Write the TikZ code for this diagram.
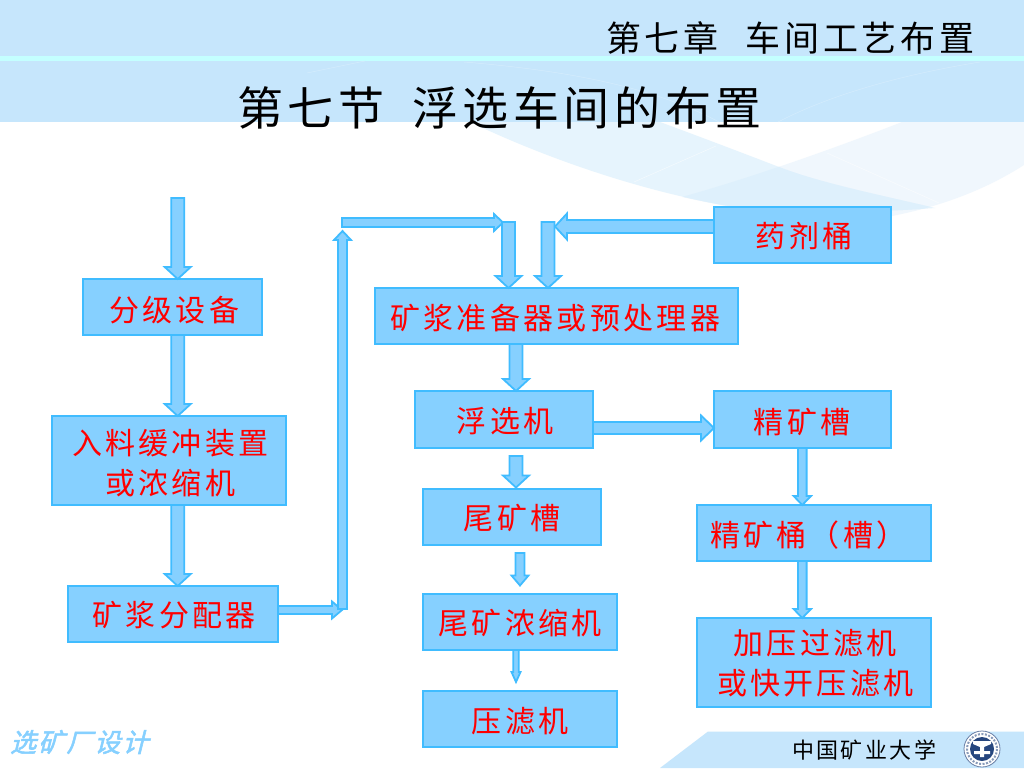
\documentclass[tikz,border=0pt]{standalone}
\usepackage{fontspec}
\usetikzlibrary{calc}
\newfontfamily\boxfont[LetterSpace=11]{Noto Sans CJK SC}
\newfontfamily\titlefont[LetterSpace=10]{Noto Sans CJK SC}
\newfontfamily\headfont[LetterSpace=11]{Noto Sans CJK SC}
\newfontfamily\footfont[LetterSpace=11]{Noto Sans CJK SC}
\newfontfamily\markfont[LetterSpace=8,FakeSlant=0.25,FakeBold=2]{Noto Sans CJK SC}
\definecolor{band}{HTML}{C6E6FC}
\definecolor{stripe}{HTML}{C4FFFF}
\definecolor{boxfill}{HTML}{86D0FF}
\definecolor{boxedge}{HTML}{40BCFF}
\definecolor{paleA}{HTML}{E6F4FD}
\definecolor{paleB}{HTML}{F0F7FD}
\definecolor{paleAB}{HTML}{DEF0FC}
\definecolor{navy}{HTML}{27477F}
\tikzset{
  procbox/.style={draw=boxedge,fill=boxfill,line width=2pt,inner sep=0pt,outer sep=0pt,
    font=\boxfont\fontsize{30}{36}\selectfont,text=red},
  blockarrow/.style={draw=boxedge,fill=boxfill,line width=1.8pt,line join=miter,miter limit=3},
  faint/.style={draw=white,line width=.5pt,opacity=.6},
  plain/.style={inner sep=0pt,outer sep=0pt,text=black}
}
% text set at an offset from the centre of its box
\newcommand\lab[3]{\raisebox{\dimexpr-#2pt-11pt\relax}[0pt][0pt]{\makebox[0pt]{\hspace*{\dimexpr2\dimexpr#1pt\relax+0.5pt\relax}#3}}}
% block arrow: shaft half width, head half width, head length, from, to
\newcommand\barrow[5]{%
  \coordinate (A) at (#4);
  \coordinate (B) at (#5);
  \coordinate (H) at ($(B)!#3pt!(A)$);
  \draw[blockarrow]
    ($(A)!#1pt!90:(B)$) -- ($(H)!#1pt!90:(B)$) -- ($(H)!#2pt!90:(B)$) -- (B)
    -- ($(H)!#2pt!-90:(B)$) -- ($(H)!#1pt!-90:(B)$) -- ($(A)!#1pt!-90:(B)$) -- cycle;
}
\begin{document}
\begin{tikzpicture}[x=1pt,y=-1pt]
\useasboundingbox (0,0) rectangle (1024,768);
\fill[white] (0,0) rectangle (1024,768);
% background waves
\fill[paleB] (902,122) .. controls (830,150) and (750,178) .. (682,197)
  .. controls (750,212) and (820,222) .. (887,217)
  .. controls (940,207) and (985,190) .. (1024,165) -- (1024,122) -- cycle;
\fill[paleA] (470,122) .. controls (550,160) and (640,190) .. (723,205)
  .. controls (800,215) and (880,212) .. (935,208)
  .. controls (880,195) and (820,183) .. (779,167)
  .. controls (735,150) and (695,135) .. (660,122) -- cycle;
\begin{scope}
  \clip (902,122) .. controls (830,150) and (750,178) .. (682,197)
  .. controls (750,212) and (820,222) .. (887,217)
  .. controls (940,207) and (985,190) .. (1024,165) -- (1024,122) -- cycle;
  \fill[paleAB] (470,122) .. controls (550,160) and (640,190) .. (723,205)
  .. controls (800,215) and (880,212) .. (935,208)
  .. controls (880,195) and (820,183) .. (779,167)
  .. controls (735,150) and (695,135) .. (660,122) -- cycle;
\end{scope}
\draw[faint] (634,182) -- (716,146);
\draw[faint] (827,153) -- (939,203);
% header and footer bands
\fill[band] (0,0) rectangle (1024,122);
\fill[stripe] (0,56) rectangle (1024,61);
\fill[band] (660,768) -- (708,731.5) -- (1024,731.5) -- (1024,768) -- cycle;
\draw[faint,draw=paleA,opacity=.45] (307,73) -- (365,61);
\draw[faint,draw=paleA,opacity=.45] (464,62) .. controls (560,70) and (650,85) .. (719,122);
\draw[faint,draw=paleA,opacity=.45] (980,62) .. controls (900,75) and (830,95) .. (778,122);
% titles
\node[plain,anchor=west,font=\headfont\fontsize{35}{42}\selectfont] (chapter) at (606,38) {第七章\ \hspace{15pt}车间工艺布置};
\node[plain,anchor=west,font=\titlefont\fontsize{46}{54}\selectfont] (section) at (237,108) {第七节\ \hspace{13pt}浮选车间的布置};
\node[plain,anchor=west,font=\footfont\fontsize{22}{26}\selectfont] (school) at (792,750) {中国矿业大学};
\node[anchor=west,inner sep=0pt,text=boxfill,font=\markfont\fontsize{26}{30}\selectfont] (mark) at (10,742) {选矿厂设计};
% crest
\fill[white] (982,749) circle (18);
\draw[navy!70,line width=.8pt] (982,749) circle (18);
\draw[navy!55,line width=2pt,dash pattern=on 2pt off 1.5pt] (982,749) circle (15);
\fill[navy] (982,749) circle (12);
\fill[white] (973,741) -- (991,741) -- (991,744) -- (984,747) -- (984,751) -- (990,751) -- (990,754) -- (984,754) -- (984,757) -- (980,757) -- (980,754) -- (974,754) -- (974,751) -- (980,751) -- (980,747) -- (973,744) -- cycle;
% boxes
\node[procbox,minimum width=179pt,minimum height=56pt] (fenji) at (172.5,307) {\lab{1.5}{3}{分级设备}};
\node[procbox,minimum width=234pt,minimum height=89pt] (ruliao) at (169,460.5) {\lab{1}{-17.5}{入料缓冲装置}\lab{1}{22.5}{或浓缩机}};
\node[procbox,minimum width=210pt,minimum height=56pt] (fenpei) at (173,614) {\lab{1}{1}{矿浆分配器}};
\node[procbox,minimum width=363pt,minimum height=56pt] (zhunbei) at (556.5,316) {\lab{-1.5}{2}{矿浆准备器或预处理器}};
\node[procbox,minimum width=178pt,minimum height=57pt] (fuxuan) at (504,419.5) {\lab{1}{1.5}{浮选机}};
\node[procbox,minimum width=178pt,minimum height=56pt] (weicao) at (512,517) {\lab{0}{1}{尾矿槽}};
\node[procbox,minimum width=194pt,minimum height=56pt] (weinong) at (520,622) {\lab{0}{1}{尾矿浓缩机}};
\node[procbox,minimum width=194pt,minimum height=56pt] (yalv) at (520,719) {\lab{0}{2}{压滤机}};
\node[procbox,minimum width=177pt,minimum height=56pt] (yaoji) at (802.5,235) {\lab{1.5}{1}{药剂桶}};
\node[procbox,minimum width=177pt,minimum height=57pt] (jingcao) at (802.5,419.5) {\lab{-.5}{2.5}{精矿槽}};
\node[procbox,minimum width=234pt,minimum height=56pt] (jingtong) at (814,533) {\lab{-6}{2}{精矿桶（槽）}};
\node[procbox,minimum width=234pt,minimum height=89pt] (jiaya) at (814,662.5) {\lab{1}{-19.5}{加压过滤机}\lab{1}{20.5}{或快开压滤机}};
% helper coordinates
\coordinate (xa) at (177.7,0);
\coordinate (xc) at (508.5,0);
\coordinate (xd) at (548,0);
\coordinate (xe) at (516,0);
\coordinate (xg) at (802.3,0);
\coordinate (yb) at (0,226.5);
\coordinate (yc) at (0,428);
\coordinate (yd) at (0,610);
\coordinate (feed) at (177.7,198);
\coordinate (riseTop) at (342.5,231);
\coordinate (riseLow) at (342.5,609);
\coordinate (runStart) at (342,222.5);
\coordinate (runEnd) at (503,222.5);
\coordinate (dropAstart) at (508.5,222);
\coordinate (dropBstart) at (548,222);
\coordinate (chemTip) at (555,226.5);
\coordinate (tailStart) at (516,456);
\coordinate (tailEnd) at (516,487.5);
\coordinate (thickStart) at (520,553);
\coordinate (thickEnd) at (520,585.5);
\coordinate (pressEnd) at (516,682);
\coordinate (cornerIn) at (342,610);
% connectors
\barrow{6.5}{13}{12}{feed}{fenji.north -| xa}
\barrow{6.5}{13}{12}{fenji.south -| xa}{ruliao.north -| xa}
\barrow{6.5}{13}{12}{ruliao.south -| xa}{fenpei.north -| xa}
\barrow{4}{8.5}{10}{fenpei.east |- yd}{cornerIn}
\barrow{4.5}{8.5}{9}{riseLow}{riseTop}
\barrow{4.5}{8.5}{9}{runStart}{runEnd}
\barrow{6.5}{13}{12}{yaoji.west |- yb}{chemTip}
\barrow{6.5}{13}{12}{dropAstart}{zhunbei.north -| xc}
\barrow{6.5}{13}{12}{dropBstart}{zhunbei.north -| xd}
\barrow{6.5}{13}{12}{zhunbei.south -| xe}{fuxuan.north -| xe}
\barrow{6}{12.5}{13}{fuxuan.east |- yc}{jingcao.west |- yc}
\barrow{6.5}{13}{12}{tailStart}{tailEnd}
\barrow{4.5}{8.5}{10}{thickStart}{thickEnd}
\barrow{2.7}{4.5}{10}{weinong.south -| xe}{pressEnd}
\barrow{4.3}{8.7}{9}{jingcao.south -| xg}{jingtong.north -| xg}
\barrow{4.3}{8.7}{9}{jingtong.south -| xg}{jiaya.north -| xg}
\end{tikzpicture}
\end{document}
